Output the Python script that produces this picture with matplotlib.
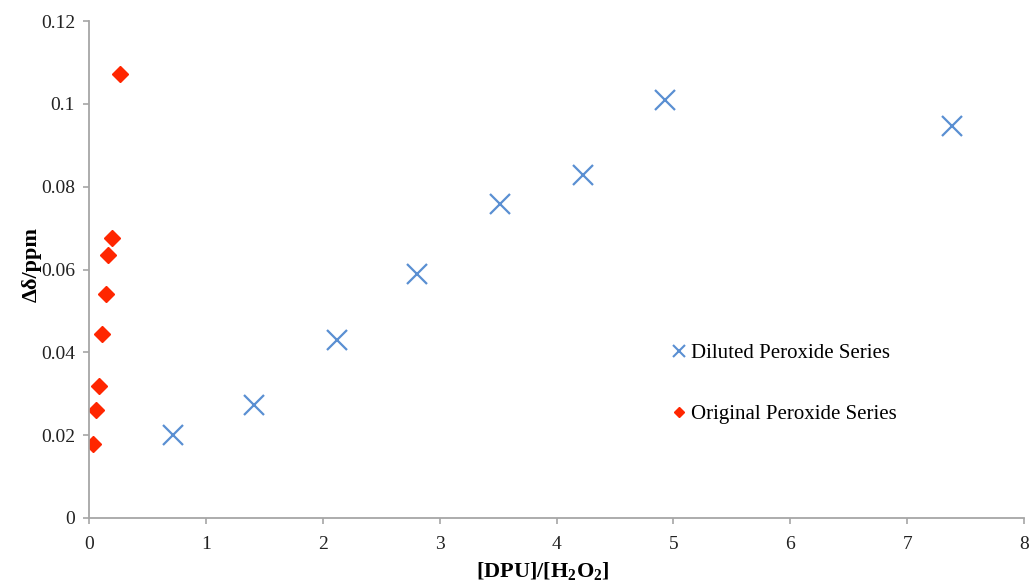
import matplotlib
matplotlib.use("Agg")
import matplotlib.pyplot as plt
from matplotlib.lines import Line2D

# Diluted peroxide series: [DPU]/[H2O2] vs chemical shift change
diluted_x = [0.72, 1.41, 2.12, 2.81, 3.52, 4.23, 4.93, 7.38]
diluted_y = [0.0200, 0.0273, 0.0430, 0.0589, 0.0758, 0.0828, 0.1009, 0.0946]

# Original peroxide series
original_x = [0.034, 0.060, 0.086, 0.111, 0.145, 0.163, 0.197, 0.265]
original_y = [0.0179, 0.0261, 0.0319, 0.0444, 0.0541, 0.0635, 0.0676, 0.1072]

x_ticks = [0, 1, 2, 3, 4, 5, 6, 7, 8]
y_ticks = [0, 0.02, 0.04, 0.06, 0.08, 0.1, 0.12]
y_tick_labels = ["0", "0.02", "0.04", "0.06", "0.08", "0.1", "0.12"]

blue = "#5a8fd2"
red = "#ff2600"
axis_gray = "#a6a6a6"

plt.rcParams["font.family"] = ["Liberation Serif", "DejaVu Serif"]
plt.rcParams["mathtext.fontset"] = "custom"
plt.rcParams["mathtext.rm"] = "Liberation Serif"
plt.rcParams["mathtext.bf"] = "Liberation Serif:bold"

fig = plt.figure(figsize=(10.29, 5.84), dpi=100)
ax = fig.add_axes([89 / 1029, 66 / 584, 935 / 1029, 497 / 584])

ax.plot(diluted_x, diluted_y, linestyle="none", marker="x", markersize=14,
        markeredgewidth=1.6, color=blue, label="Diluted Peroxide Series")
ax.plot(original_x, original_y, linestyle="none", marker="D", markersize=8.5,
        color=red, markeredgecolor=red, label="Original Peroxide Series")

ax.set_xlim(0, 8)
ax.set_ylim(0, 0.12)
ax.set_xticks(x_ticks)
ax.set_xticklabels([str(t) for t in x_ticks])
ax.set_yticks(y_ticks)
ax.set_yticklabels(y_tick_labels)

for side in ("top", "right"):
    ax.spines[side].set_visible(False)
for side in ("left", "bottom"):
    ax.spines[side].set_color(axis_gray)
    ax.spines[side].set_linewidth(1.3)
ax.tick_params(axis="both", direction="out", length=4, width=1.2,
               color=axis_gray, labelsize=14, labelcolor="#222222")
ax.tick_params(axis="y", pad=6)
ax.tick_params(axis="x", pad=9)

ax.set_ylabel("Δδ/ppm", fontsize=16, fontweight="bold")
ax.yaxis.set_label_coords(-0.05, 0.51)
ax.set_xlabel("[DPU]/[H$_\\mathbf{2}$O$_\\mathbf{2}$]", fontsize=16,
              fontweight="bold")
ax.xaxis.set_label_coords(0.485, -0.108)
ax.xaxis.label.set_verticalalignment("center")

handles = [
    Line2D([], [], linestyle="none", marker="x", markersize=8,
           markeredgewidth=1.5, color=blue),
    Line2D([], [], linestyle="none", marker="D", markersize=5.5, color=red),
]
ax.legend(handles, ["Diluted Peroxide Series", "Original Peroxide Series"],
          loc="upper left", bbox_to_anchor=(0.615, 0.368), frameon=False,
          fontsize=15, handlelength=0.6, handletextpad=0.3,
          labelspacing=2.0, borderaxespad=0)

fig.savefig("out.png", dpi=100)
